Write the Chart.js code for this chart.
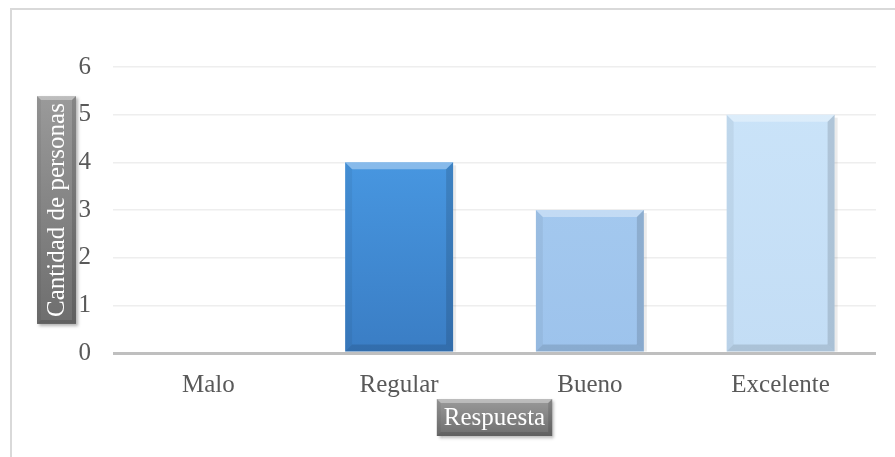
<!DOCTYPE html>
<html>
<head>
<meta charset="utf-8">
<script src="https://cdn.jsdelivr.net/npm/chart.js@4"></script>
<style>
  html, body { margin: 0; padding: 0; background: #fff; }
  #wrap { width: 895px; height: 457px; }
</style>
</head>
<body>
<div id="wrap"><canvas id="myChart" width="895" height="457"></canvas></div>
<script>
const categories = ["Malo", "Regular", "Bueno", "Excelente"];
const personas = [0, 4, 3, 5];
const yTicks = [0, 1, 2, 3, 4, 5, 6];
const yTitle = "Cantidad de personas";
const xTitle = "Respuesta";

// top / bottom tone for each bar
const barTop = ["#4ea3ee", "#4ea3ee", "#a9cdf1", "#cbe4f9"];
const barBottom = ["#3a7dc4", "#3a7dc4", "#9dc3ec", "#c3ddf5"];

const serif = "'Liberation Serif', 'Times New Roman', serif";
const ctx = document.querySelector("#myChart").getContext("2d");

// frame round the whole chart (left and top edges show)
const framePlugin = {
    id: "frame",
    beforeDraw(chart) {
        const c = chart.ctx;
        c.save();
        c.strokeStyle = "#d9d9d9";
        c.lineWidth = 2;
        c.beginPath();
        c.moveTo(11, chart.height + 2);
        c.lineTo(11, 9);
        c.lineTo(chart.width + 2, 9);
        c.stroke();
        c.restore();
    }
};

// bevelled edges on each bar
function bevel(c, l, t, r, b, s) {
    const side = (pts, fill) => {
        c.beginPath();
        c.moveTo(pts[0][0], pts[0][1]);
        for (let i = 1; i < pts.length; i++) c.lineTo(pts[i][0], pts[i][1]);
        c.closePath();
        c.fillStyle = fill;
        c.fill();
    };
    side([[l, t], [r, t], [r - s, t + s], [l + s, t + s]], "rgba(255,255,255,0.35)");
    side([[l, t], [l + s, t + s], [l + s, b - s], [l, b]], "rgba(0,0,0,0.05)");
    side([[r, t], [r, b], [r - s, b - s], [r - s, t + s]], "rgba(0,0,0,0.13)");
    side([[l, b], [l + s, b - s], [r - s, b - s], [r, b]], "rgba(0,0,0,0.12)");
}

const bevelPlugin = {
    id: "bevel",
    afterDatasetsDraw(chart) {
        const c = chart.ctx;
        chart.getDatasetMeta(0).data.forEach((bar) => {
            if (Math.abs(bar.base - bar.y) < 1) return;
            const l = bar.x - bar.width / 2, r = bar.x + bar.width / 2;
            c.save();
            // soft shadow on the right
            c.fillStyle = "rgba(0,0,0,0.08)";
            c.fillRect(r, bar.y + 3, 3, bar.base - bar.y - 3);
            bevel(c, l, bar.y, r, bar.base, 7);
            c.restore();
        });
    }
};

// grey bevelled boxes holding the axis titles
function titleBox(c, cx, cy, w, h, text, vertical) {
    const l = cx - w / 2, t = cy - h / 2;
    const g = c.createLinearGradient(l, t, l, t + h);
    g.addColorStop(0, "#9a9a9a");
    g.addColorStop(1, "#6e6e6e");
    c.save();
    c.shadowColor = "rgba(0,0,0,0.3)";
    c.shadowOffsetX = 2;
    c.shadowOffsetY = 2;
    c.shadowBlur = 3;
    c.fillStyle = g;
    c.fillRect(l, t, w, h);
    c.restore();
    c.save();
    bevel(c, l, t, l + w, t + h, 4);
    c.fillStyle = "#ffffff";
    c.font = "25px " + serif;
    c.textAlign = "center";
    c.textBaseline = "middle";
    c.translate(cx, cy);
    if (vertical) c.rotate(-Math.PI / 2);
    c.fillText(text, 0, 1);
    c.restore();
}

const titlePlugin = {
    id: "axisTitles",
    afterDraw(chart) {
        const c = chart.ctx, a = chart.chartArea;
        c.save();
        c.font = "25px " + serif;
        const yw = c.measureText(yTitle).width;
        const xw = c.measureText(xTitle).width;
        c.restore();
        titleBox(c, 56.5, (a.top + a.bottom) / 2, 39, yw + 14, yTitle, true);
        titleBox(c, (a.left + a.right) / 2, 417.5, xw + 14, 37, xTitle, false);
    }
};

const data = {
    labels: categories,
    datasets: [{
        data: personas,
        backgroundColor: (context) => {
            const area = context.chart.chartArea;
            if (!area) return barTop[context.dataIndex];
            const g = context.chart.ctx.createLinearGradient(0, area.top, 0, area.bottom);
            g.addColorStop(0, barTop[context.dataIndex]);
            g.addColorStop(1, barBottom[context.dataIndex]);
            return g;
        },
        borderWidth: 0,
        categoryPercentage: 1,
        barPercentage: 0.566,
    }]
};

const config = {
    type: "bar",
    data: data,
    plugins: [framePlugin, bevelPlugin, titlePlugin],
    options: {
        responsive: false,
        animation: false,
        layout: { padding: { left: 12, right: 19, top: 67, bottom: 0 } },
        plugins: {
            legend: { display: false },
            tooltip: { enabled: false }
        },
        scales: {
            x: {
                grid: { display: false },
                border: { display: false },
                ticks: { color: "#595959", font: { family: serif, size: 25 }, padding: 9 },
                afterFit: (scale) => { scale.height = 104; }
            },
            y: {
                min: 0,
                max: 6,
                afterBuildTicks: (scale) => { scale.ticks = yTicks.map((v) => ({ value: v })); },
                grid: {
                    drawTicks: false,
                    color: (c) => c.tick.value === 0 ? "#bfbfbf" : "#eeeeee",
                    lineWidth: (c) => c.tick.value === 0 ? 3 : 1.5
                },
                border: { display: false },
                ticks: { color: "#595959", font: { family: serif, size: 25 }, padding: 22 },
                afterFit: (scale) => { scale.width = 101; }
            }
        }
    }
};

const myChart = new Chart(ctx, config);
</script>
</body>
</html>
